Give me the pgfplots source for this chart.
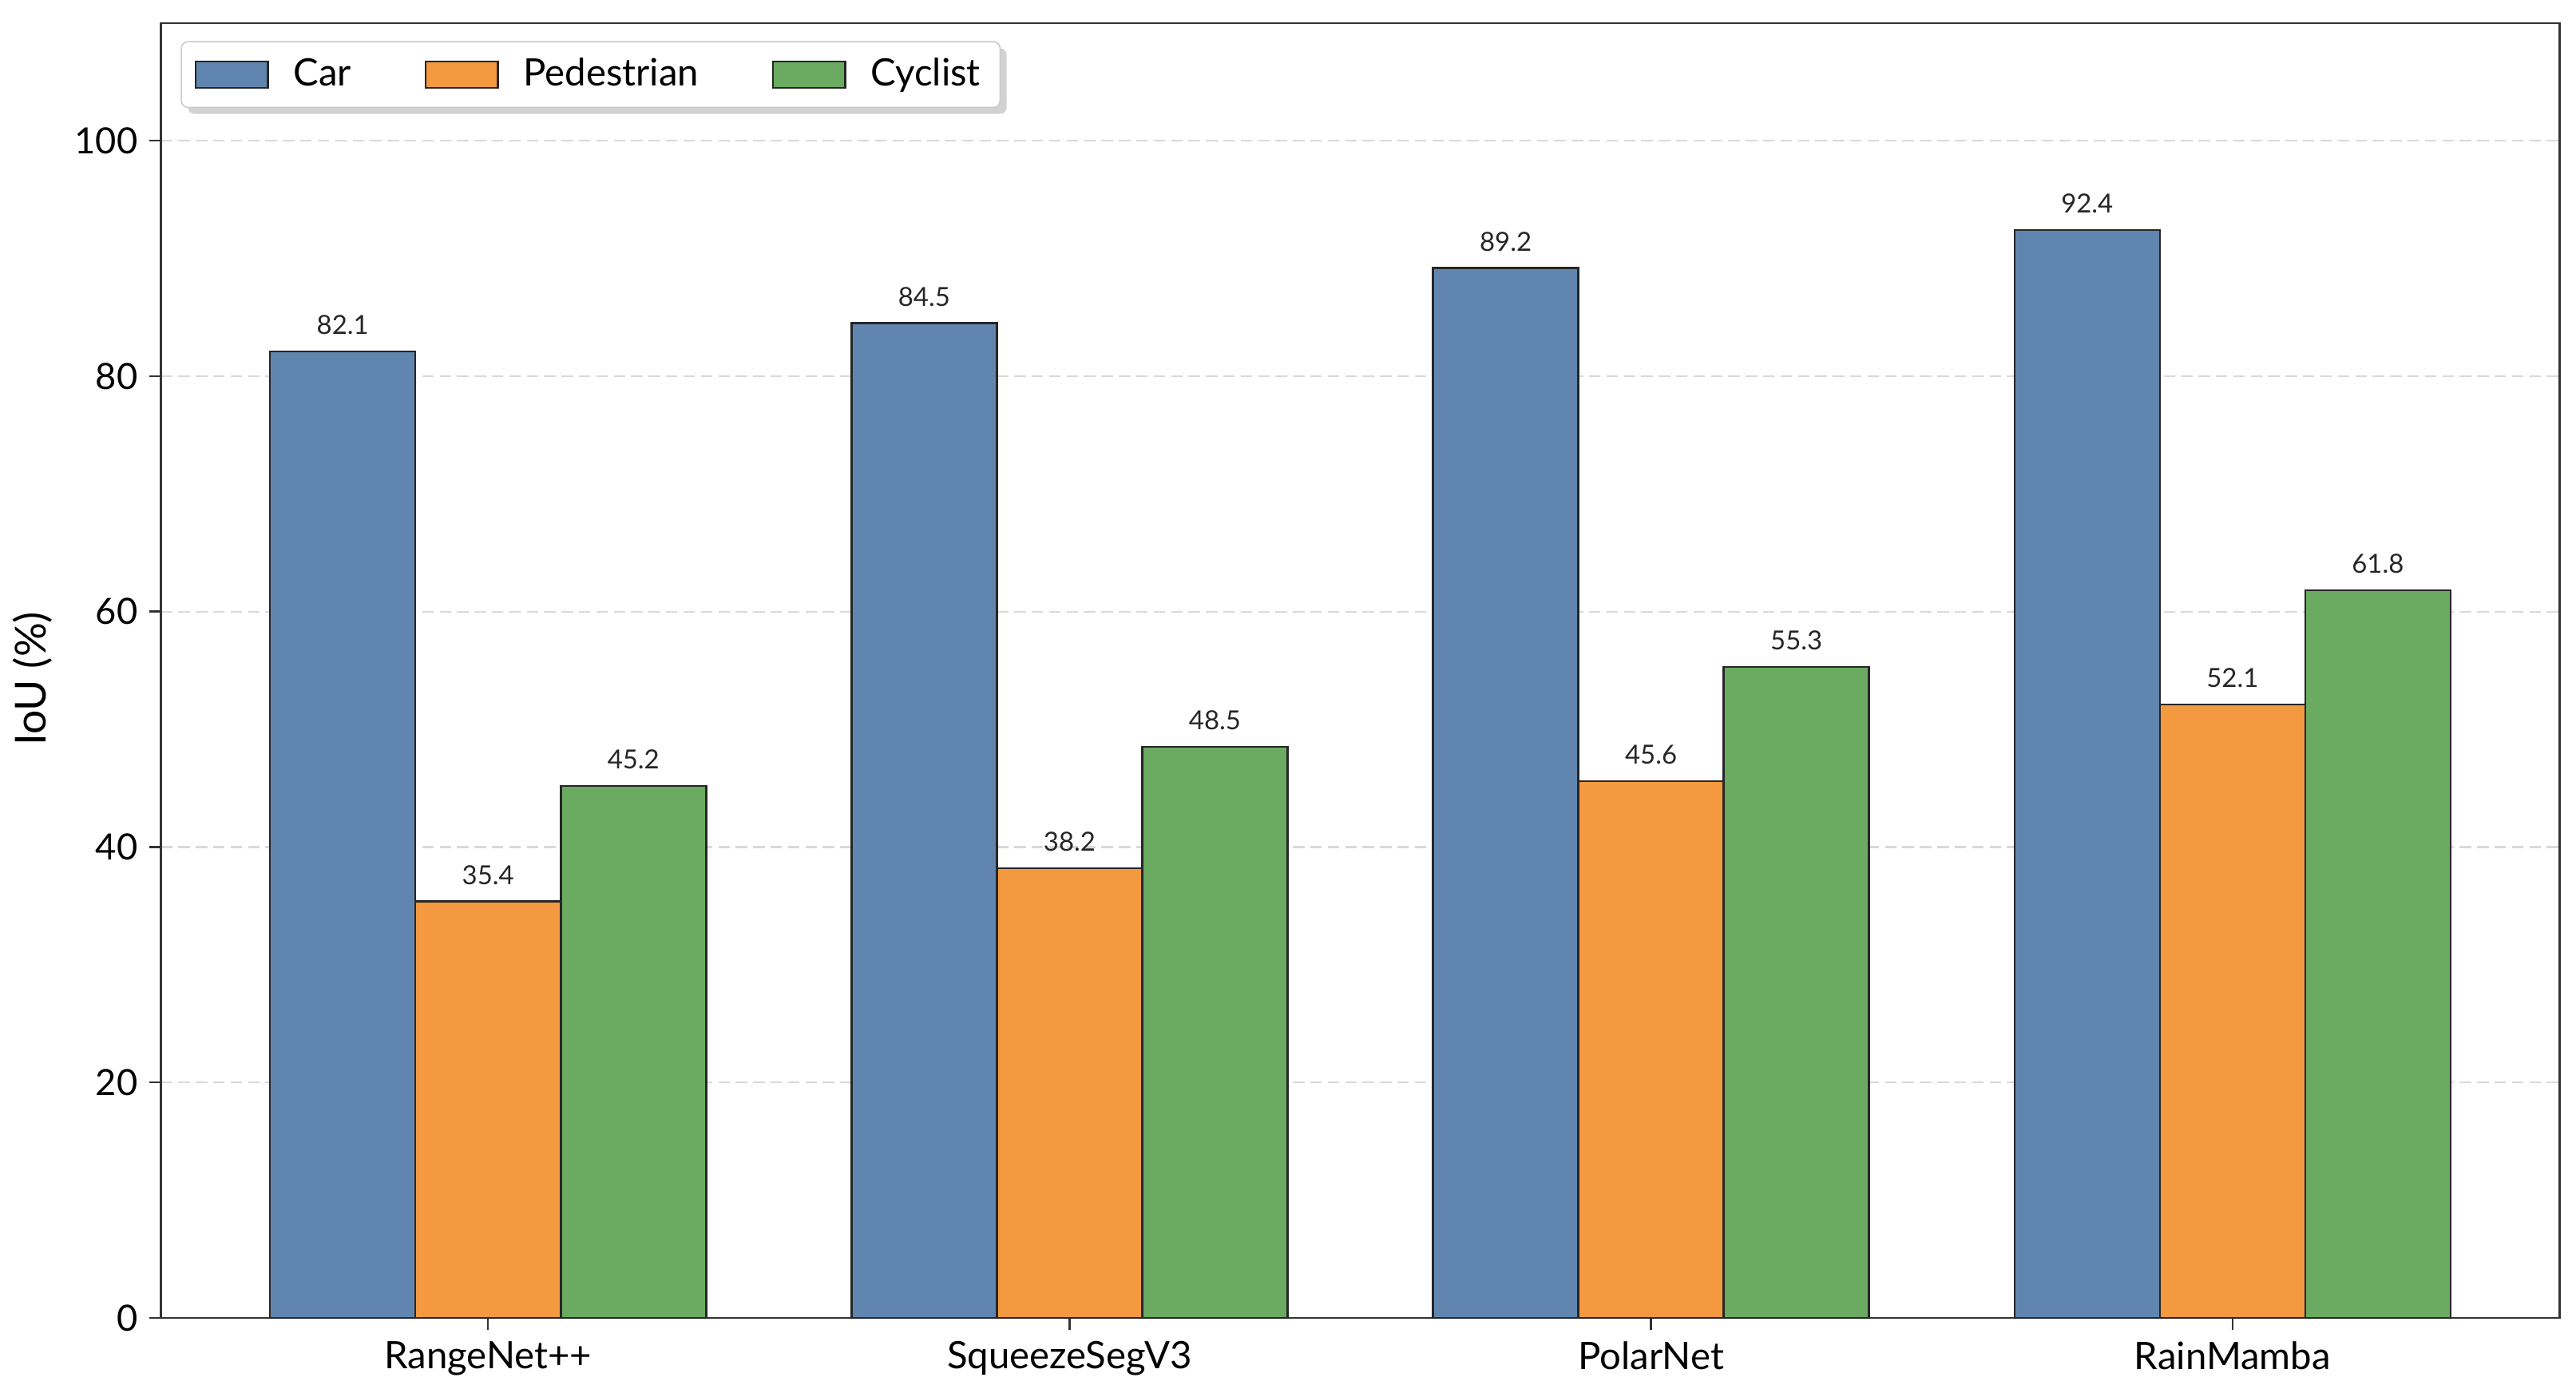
\documentclass[border=0pt]{standalone}
\usepackage{fontspec}
\setmainfont{Lato}
\usepackage{pgfplots}
\pgfplotsset{compat=1.18}
\usetikzlibrary{shadows}
\definecolor{cblue}{RGB}{96,134,176}
\definecolor{corange}{RGB}{243,153,64}
\definecolor{cgreen}{RGB}{106,170,97}
\definecolor{spine}{RGB}{51,51,51}
\makeatletter
\tikzset{nopre/.code={\def\tikz@preactions{}\def\tikz@postactions{}}}
\makeatother
\pgfplotsset{patchlegend/.style={legend image code/.code={\draw[##1, nopre, sharp corners] (0pt,-4pt) rectangle (22pt,4pt);}}}
\begin{document}
\begin{tikzpicture}
\begin{axis}[
  scale only axis, width=730pt, height=394pt,
  xmin=-0.5625, xmax=3.5625, ymin=0, ymax=110,
  xtick={0,1,2,3},
  xticklabels={RangeNet++,SqueezeSegV3,PolarNet,RainMamba},
  ytick={0,20,40,60,80,100},
  tick pos=left, tick align=outside, major tick length=3.6pt,
  every tick/.style={spine, line width=0.6pt},
  axis line style={spine, line width=0.6pt},
  ymajorgrids,
  grid style={dash pattern=on 3.5pt off 1.8pt, black!15, line width=0.5pt},
  /pgf/number format/assume math mode=true,
  yticklabel style={font=\fontsize{11}{13}\selectfont},
  xticklabel style={font=\fontsize{11.5}{13}\selectfont},
  ylabel={IoU (\%)},
  ylabel style={font=\fontsize{13}{15}\selectfont, xshift=-2.5pt},
  ybar, bar width=0.25,
  nodes near coords={\pgfmathprintnumber[fixed,fixed zerofill,precision=1]{\pgfplotspointmeta}},
  nodes near coords style={font=\fontsize{8}{9}\selectfont, text=black!85, inner sep=0pt, anchor=south, yshift=4.8pt},
  legend columns=3,
  legend style={at={(0,1)}, anchor=north west, xshift=6pt, yshift=-5.5pt,
    draw=black!20, rounded corners=2pt, fill=white,
    drop shadow={shadow xshift=2pt, shadow yshift=-2pt, fill=black!35},
    font=\fontsize{11.5}{13}\selectfont, inner xsep=4pt, inner ysep=3pt,
    /tikz/every odd column/.append style={column sep=5.5pt},
    /tikz/every even column/.append style={column sep=20.3pt}},
]
\addplot[fill=cblue, draw=black!85, line width=0.6pt, bar shift=-0.25, patchlegend]
  coordinates {(0,82.1) (1,84.5) (2,89.2) (3,92.4)};
\addplot[fill=corange, draw=black!85, line width=0.6pt, bar shift=0, patchlegend]
  coordinates {(0,35.4) (1,38.2) (2,45.6) (3,52.1)};
\addplot[fill=cgreen, draw=black!85, line width=0.6pt, bar shift=0.25, patchlegend]
  coordinates {(0,45.2) (1,48.5) (2,55.3) (3,61.8)};
\legend{Car,Pedestrian,Cyclist}
\end{axis}
\pgfresetboundingbox
\path ([xshift=-49pt,yshift=-24pt]current axis.south west) rectangle ([xshift=5pt,yshift=7pt]current axis.north east);
\end{tikzpicture}
\end{document}
